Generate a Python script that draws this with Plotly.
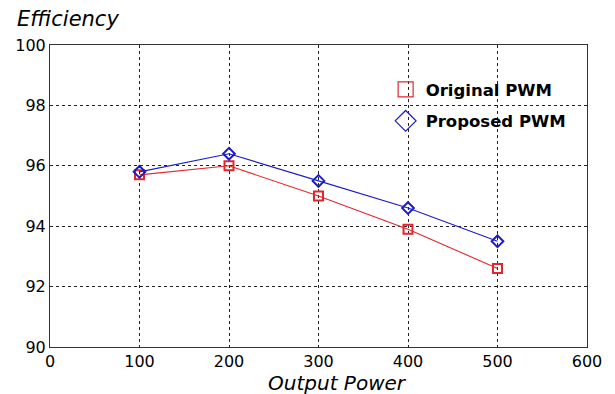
import plotly.graph_objects as go

# Efficiency versus output power for the two PWM schemes
output_power = [100, 200, 300, 400, 500]
eff_original = [95.7, 96.0, 95.0, 93.9, 92.6]
eff_proposed = [95.8, 96.4, 95.5, 94.6, 93.5]

x_ticks = [0, 100, 200, 300, 400, 500, 600]
y_ticks = [90, 92, 94, 96, 98, 100]

RED = "#e3262b"
BLUE = "#1c1cc8"
FONT = "DejaVu Sans, Arial, sans-serif"

fig = go.Figure()

fig.add_trace(go.Scatter(
    x=output_power, y=eff_original, mode="lines+markers",
    line=dict(color=RED, width=1.1),
    marker=dict(symbol="square-open", size=9, color=RED, line=dict(width=2)),
    showlegend=False,
))
fig.add_trace(go.Scatter(
    x=output_power, y=eff_proposed, mode="lines+markers",
    line=dict(color=BLUE, width=1.1),
    marker=dict(symbol="diamond-open", size=9, color=BLUE, line=dict(width=2)),
    showlegend=False,
))

# legend entries show the marker only
fig.add_trace(go.Scatter(
    x=[None], y=[None], mode="markers", name="Original PWM",
    marker=dict(symbol="square-open", size=15, color=RED, line=dict(width=1.2)),
    legendgroup="a",
))
fig.add_trace(go.Scatter(
    x=[None], y=[None], mode="markers", name="Proposed PWM",
    marker=dict(symbol="diamond-open", size=16, color=BLUE, line=dict(width=1.2)),
    legendgroup="b",
))

axis_common = dict(
    showline=True, linecolor="#333333", linewidth=1, mirror=True,
    showgrid=True, gridcolor="#222222", griddash="dot", gridwidth=1,
    zeroline=False, ticks="",
    tickfont=dict(family=FONT, size=16, color="black"),
)

fig.update_xaxes(range=[0, 600], tickvals=x_ticks,
                 ticktext=[str(v) for v in x_ticks], ticklabelstandoff=0,
                 **axis_common)
fig.update_yaxes(range=[90, 100], tickvals=y_ticks,
                 ticktext=[str(v) for v in y_ticks], **axis_common)

fig.update_layout(
    width=615, height=394,
    margin=dict(l=50, r=28, t=45, b=47),
    paper_bgcolor="white", plot_bgcolor="white",
    font=dict(family=FONT, color="black"),
    legend=dict(
        x=0.625, y=0.91, xanchor="left", yanchor="top",
        bgcolor="rgba(0,0,0,0)", borderwidth=0,
        font=dict(family=FONT, size=16.5, color="black", weight="bold"),
        tracegroupgap=7,
    ),
    annotations=[
        dict(text="<i>Efficiency</i>", xref="paper", yref="paper",
             x=-0.066, y=1.0, xanchor="left", yanchor="bottom", yshift=12,
             showarrow=False, font=dict(family=FONT, size=21, color="black")),
        dict(text="<i>Output Power</i>", xref="paper", yref="paper",
             x=0.536, y=0.0, xanchor="center", yanchor="top", yshift=-22,
             showarrow=False, font=dict(family=FONT, size=20, color="black")),
    ],
)

fig.write_html("out.html")
